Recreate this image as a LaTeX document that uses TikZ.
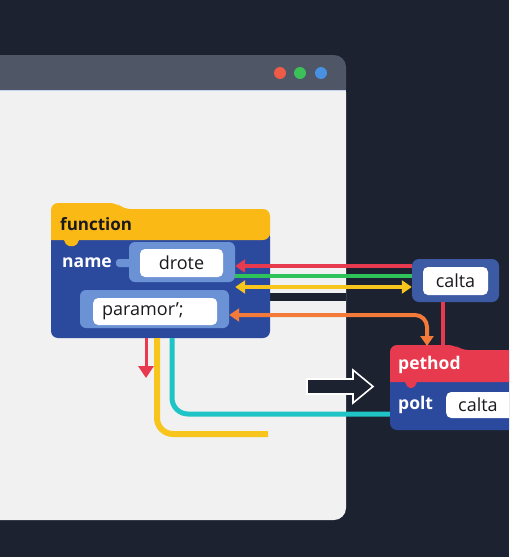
\documentclass[tikz,border=0pt]{standalone}
\usepackage{fontspec}
\setmainfont{Open Sans}
\usetikzlibrary{arrows.meta,positioning}

\definecolor{bgdark}{RGB}{28,34,48}
\definecolor{winbar}{RGB}{79,86,101}
\definecolor{winbody}{RGB}{241,241,241}
\definecolor{dotred}{RGB}{238,92,72}
\definecolor{dotgreen}{RGB}{60,192,90}
\definecolor{dotblue}{RGB}{74,144,226}
\definecolor{fnyellow}{RGB}{251,185,22}
\definecolor{blockblue}{RGB}{43,74,158}
\definecolor{midblue}{RGB}{61,90,165}
\definecolor{lightblue}{RGB}{108,146,214}
\definecolor{labeldark}{RGB}{25,25,30}
\definecolor{wirered}{RGB}{232,58,78}
\definecolor{wiregreen}{RGB}{46,196,90}
\definecolor{wireyellow}{RGB}{248,197,28}
\definecolor{wireorange}{RGB}{244,122,58}
\definecolor{wireteal}{RGB}{31,196,198}

\begin{document}
\begin{tikzpicture}[x=1pt,y=-1pt,
    >={Triangle[length=10pt,width=13pt]},
    darklbl/.style={anchor=west,inner sep=0pt,text=labeldark,font=\fontsize{17}{20}\selectfont\bfseries},
    whitelbl/.style={anchor=west,inner sep=0pt,text=white,font=\fontsize{17.5}{20}\selectfont\bfseries},
    lightbox/.style={fill=lightblue,rounded corners=6pt,inner sep=0pt},
    whitebox/.style={fill=white,rounded corners=5pt,inner sep=0pt,text=labeldark,font=\fontsize{18}{21}\selectfont},
    wire/.style={line width=4pt}]
	\useasboundingbox (0,0) rectangle (509,557);
	\clip (0,0) rectangle (509,557);
	\fill[bgdark] (0,0) rectangle (509,557);

	% window
	\fill[winbody,rounded corners=12pt] (-20,80) rectangle (346,520);
	\fill[winbar] (346,90) [rounded corners=12pt] -- (346,55) -- (-20,55) [sharp corners] -- (-20,90) -- cycle;
	\draw[line width=1pt,color=lightblue!40] (-20,90.5) -- (346,90.5);
	\fill[dotred] (280,73) circle (6pt);
	\fill[dotgreen] (300,73) circle (6pt);
	\fill[dotblue] (321,73) circle (6pt);
	\fill[bgdark] (270,293) rectangle (346,301);

	% function block
	\node[fill=blockblue,rounded corners=7pt,minimum width=219pt,minimum height=108pt] (fnbody) at (160.5,284) {};
	\fill[fnyellow] (51,240) [rounded corners=7pt] -- (51,203) -- (117,203) -- (123,209) -- (270,209) -- (270,240) [sharp corners] -- (79,240) [rounded corners=2pt] -- (76,246) -- (67,246) [sharp corners] -- (64,240) -- cycle;
	\node[darklbl] (fn) at (60,224) {function};
	\node[whitelbl] (name) at (62,263) {name};
	\fill[lightblue,rounded corners=3pt] (116,259) rectangle (134,267);
	\node[lightbox,minimum width=106pt,minimum height=40pt] (droteout) at (182,262) {};
	\node[whitebox,minimum width=83pt,minimum height=28pt] (drote) at (181.5,263) {drote};
	\node[lightbox,minimum width=149pt,minimum height=38pt] (paramout) at (154.5,309) {};
	\node[whitebox,anchor=west,text width=106pt,align=left,inner xsep=9pt,minimum height=27pt] (param) at (93,311.5) {paramor';};

	% calta box
	\node[fill=midblue,rounded corners=7pt,minimum width=87pt,minimum height=43pt] (caltaout) at (455.5,280.5) {};
	\node[whitebox,minimum width=65pt,minimum height=28pt] (calta) at (455.5,281) {calta};

	% pethod block
	\node[fill=blockblue,rounded corners=7pt,minimum width=140pt,minimum height=58pt] (pbody) at (460,401) {};
	\fill[wirered] (390,382) [rounded corners=7pt] -- (390,345) -- (455,345) -- (461,350) -- (530,350) -- (530,382) [sharp corners] -- (417,382) [rounded corners=2pt] -- (414,388) -- (408,388) [sharp corners] -- (405,382) -- cycle;
	\node[whitelbl] (pethod) at (398,365) {pethod};
	\node[whitelbl] (polt) at (398,405) {polt};
	\node[whitebox,anchor=west,text width=60pt,align=left,inner xsep=12pt,minimum height=26pt] (calta2) at (446,405) {calta};

	\coordinate (pTab) at (427,346);
	\coordinate (pTop) at (443,345);
	\coordinate (yEnd) at (268,434);
	\coordinate (rEnd) at (146,378);

	% connectors
	\draw[wire,draw=wirered,->] (caltaout.west |- 0,266) -- (droteout.east |- 0,266);
	\draw[wire,draw=wiregreen] (caltaout.west |- 0,276) -- (droteout.east |- 0,276);
	\draw[wire,draw=wireyellow,<->] (droteout.east |- 0,287) -- (caltaout.west |- 0,287);
	\draw[wire,draw=wireorange,<->,rounded corners=12pt] (paramout.east |- 0,315) -| (pTab);
	\draw[wire,draw=wirered] (caltaout.south -| pTop) -- (pTop);
	\draw[line width=5pt,draw=wireteal,rounded corners=16pt] (fnbody.south -| 172,0) |- (pbody.west |- 0,414);
	\draw[line width=6pt,draw=wireyellow,rounded corners=16pt] (fnbody.south -| 157,0) |- (yEnd);
	\draw[line width=3pt,draw=wirered,-{Triangle[length=12pt,width=15pt]}] (fnbody.south -| 146,0) -- (rEnd);

	% block arrow
	\draw[white,fill=bgdark,line width=1.6pt,line join=miter] (307,379) -- (353,379) -- (353,370) -- (373,386.5) -- (353,403) -- (353,394) -- (307,394) -- cycle;
\end{tikzpicture}
\end{document}
